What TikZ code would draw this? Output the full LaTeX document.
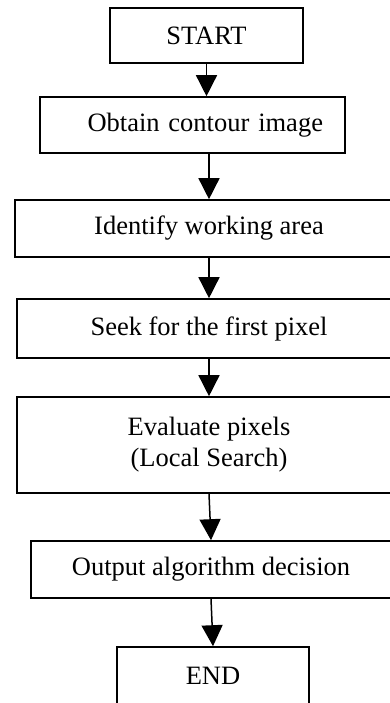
\documentclass[tikz,border=0pt]{standalone}
\usepackage{fontspec}
\setmainfont{Liberation Serif}
\usepackage{tikz}
\usetikzlibrary{
  arrows.meta,%
  calc,%
  positioning
}
\tikzset{>={Triangle[width=21pt,length=21pt]}}
\tikzset{font=\fontsize{26.5}{31}\selectfont}
\tikzset{flowbox/.style={draw, rectangle, line width=1.6pt, align=center, inner sep=0pt},
  flowarrow/.style={->, line width=1.5pt}}

\begin{document}
\begin{tikzpicture}[x=1pt, y=-1pt]
        \clip (0,0) rectangle (390,703);
        \node[flowbox, minimum width=193pt, minimum height=55pt] (start) at (206.5,35.5) {START};
        \node[flowbox, minimum height=56pt, text width=261pt, inner xsep=22pt, align=right] (obtain) at (192.5,125) {Obtain contour image};
        \node[flowbox, minimum width=388pt, minimum height=57pt] (identify) at (209,228.5) {Identify working area};
        \node[flowbox, minimum width=384pt, minimum height=59pt] (seek) at (209,328.5) {Seek for the first pixel};
        \node[flowbox, minimum width=384pt, minimum height=96pt] (evaluate) at (209,445) {Evaluate pixels\\(Local Search)};
        \node[flowbox, minimum width=360pt, minimum height=57pt] (output) at (211,569.5) {Output algorithm decision};
        \node[flowbox, minimum width=192pt, minimum height=57pt] (end) at (213,675.5) {END};
        % connectors
        \draw[flowarrow] (start.south) -- (start.south |- obtain.north);
        \draw[flowarrow] (obtain.south -| identify) -- (identify.north);
        \draw[flowarrow] (identify.south) -- (seek.north);
        \draw[flowarrow] (seek.south) -- (evaluate.north);
        \draw[flowarrow] (evaluate.south) -- (output.north);
        \draw[flowarrow] (output.south) -- (end.north);
      \end{tikzpicture}
\end{document}
